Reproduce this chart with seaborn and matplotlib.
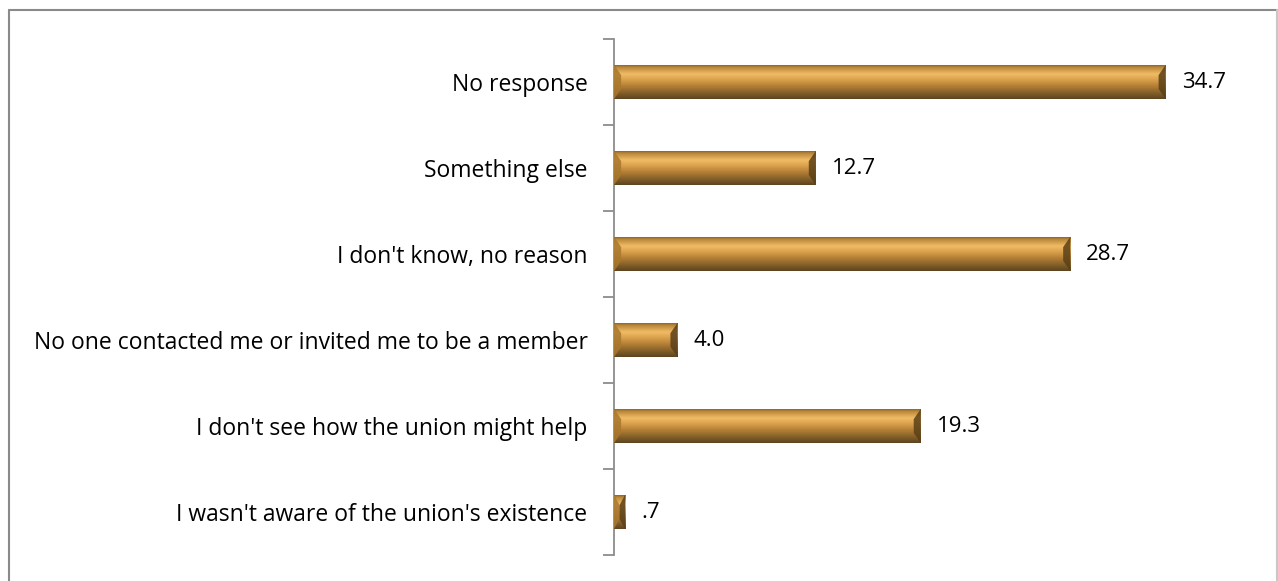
import numpy as np
import pandas as pd
import matplotlib.pyplot as plt
import matplotlib.patches as mpatches
from matplotlib.lines import Line2D
from matplotlib.colors import LinearSegmentedColormap
import seaborn as sns

# reasons for not joining, percent of respondents
reasons = [
    "No response",
    "Something else",
    "I don't know, no reason",
    "No one contacted me or invited me to be a member",
    "I don't see how the union might help",
    "I wasn't aware of the union's existence",
]
percent = [34.7, 12.7, 28.7, 4.0, 19.3, 0.7]
value_labels = ["34.7", "12.7", "28.7", "4.0", "19.3", ".7"]

data = pd.DataFrame({"reason": reasons, "percent": percent})

sns.set_theme(style="white")
plt.rcParams["font.family"] = ["Open Sans", "DejaVu Sans"]

fig = plt.figure(figsize=(12.78, 5.81), dpi=100)
ax = fig.add_axes([614 / 1278, 26 / 581, 636 / 1278, 516 / 581])

sns.barplot(data=data, x="percent", y="reason", orient="h", width=0.4,
            color="#c08a3a", edgecolor="none", ax=ax)

# fake bevel look: vertical gradient clipped to each bar plus darker ends
bevel = LinearSegmentedColormap.from_list("bevel", [
    (0.00, "#7a5a22"), (0.08, "#b88638"), (0.28, "#f2bc66"),
    (0.45, "#d9a04c"), (0.65, "#b07c34"), (0.85, "#7e5c28"), (1.00, "#5e4520")])
grad = np.linspace(0, 1, 64).reshape(-1, 1)
for bar in list(ax.patches):
    x0, y0 = bar.get_x(), bar.get_y()
    w, h = bar.get_width(), bar.get_height()
    im = ax.imshow(grad, cmap=bevel, aspect="auto", extent=[x0, x0 + w, y0 + h, y0],
                   zorder=3, interpolation="bicubic")
    im.set_clip_path(bar)
    e = min(0.45, w / 2)
    ax.add_patch(mpatches.Polygon([[x0, y0], [x0 + e, y0 + h * 0.3], [x0 + e, y0 + h * 0.7], [x0, y0 + h]],
                                  closed=True, color="#a8782e", alpha=0.85, zorder=4, lw=0))
    ax.add_patch(mpatches.Polygon([[x0 + w, y0], [x0 + w - e, y0 + h * 0.3], [x0 + w - e, y0 + h * 0.7], [x0 + w, y0 + h]],
                                  closed=True, color="#5a4018", alpha=0.85, zorder=4, lw=0))

for i, (v, lab) in enumerate(zip(percent, value_labels)):
    ax.text(v + 1.0, i, lab, va="center", ha="left", fontsize=16, color="black")

ax.set_xlim(0, 40)
ax.set_ylim(len(reasons) - 0.5, -0.5)
ax.set_xlabel("")
ax.set_ylabel("")
ax.set_xticks([])

ax.set_yticks(range(len(reasons)))
ax.set_yticklabels(reasons, fontsize=16.5, color="black")
ax.tick_params(axis="y", which="major", length=0, pad=19)
ax.set_yticks(np.arange(-0.5, len(reasons), 1), minor=True)
ax.tick_params(axis="y", which="minor", length=8, width=1.3, color="#8c8c8c", left=True)

for s in ["top", "right", "bottom"]:
    ax.spines[s].set_visible(False)
ax.spines["left"].set_color("#8c8c8c")
ax.spines["left"].set_linewidth(1.3)

# chart frame (left/top darker, right lighter)
fx0, fy1, fx1 = 8.5 / 1278, 1 - 9.5 / 581, 1276.5 / 1278
fig.add_artist(Line2D([fx0, fx0], [0, fy1], transform=fig.transFigure, color="#8a8a8a", lw=1.5))
fig.add_artist(Line2D([fx0, fx1], [fy1, fy1], transform=fig.transFigure, color="#8a8a8a", lw=1.5))
fig.add_artist(Line2D([fx1, fx1], [0, fy1], transform=fig.transFigure, color="#c8c8c8", lw=1.5))

plt.savefig("out.png", dpi=100)
